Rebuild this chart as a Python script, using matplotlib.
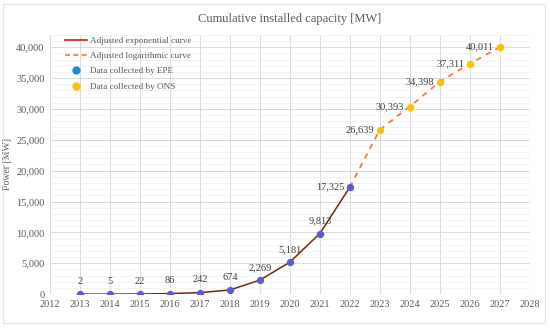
import matplotlib
matplotlib.use("Agg")
import matplotlib.pyplot as plt
from matplotlib.lines import Line2D
from matplotlib.patches import Rectangle

# data
epe_years = [2013, 2014, 2015, 2016, 2017, 2018, 2019, 2020, 2021, 2022]
epe_power = [2, 5, 22, 86, 242, 674, 2269, 5181, 9813, 17325]
ons_years = [2023, 2024, 2025, 2026, 2027]
ons_power = [26639, 30393, 34398, 37311, 40011]
x_ticks = list(range(2012, 2029))
y_ticks = list(range(0, 40001, 5000))

plt.rcParams["font.family"] = ["Liberation Serif", "DejaVu Serif"]
gray = "#595959"

fig = plt.figure(figsize=(5.5, 3.29), dpi=100)
fig.patches.append(Rectangle((0.006, 0.018), 0.985, 0.97, transform=fig.transFigure,
                             fill=False, edgecolor="#e3e3e3", linewidth=0.8))
ax = fig.add_axes([0.091, 0.106, 0.872, 0.788])

# grid
ax.set_xlim(2012, 2028)
ax.set_ylim(0, 42000)
ax.set_xticks(x_ticks)
ax.set_yticks(y_ticks)
ax.set_yticks(range(0, 42001, 1000), minor=True)
ax.grid(which="major", color="#d9d9d9", linewidth=0.7)
ax.grid(which="minor", axis="y", color="#efefef", linewidth=0.5)
ax.set_axisbelow(True)
for s in ax.spines.values():
    s.set_visible(False)
ax.axhline(0, color="#bfbfbf", linewidth=0.8, zorder=1)
ax.tick_params(which="both", length=0, labelsize=7.5, labelcolor=gray, pad=4)
ax.yaxis.set_major_formatter(matplotlib.ticker.FuncFormatter(lambda v, p: f"{int(v):,}"))

# curves
ax.plot(epe_years, epe_power, color="#6e2a0c", linewidth=1.1, zorder=2)
ax.plot([epe_years[-1]] + ons_years, [epe_power[-1]] + ons_power, color="#f07a3c",
        linewidth=1.3, linestyle=(0, (3, 3)), zorder=2)

# points
ax.scatter(epe_years, epe_power, s=28, color="#5b5bd6", zorder=3, linewidths=0)
ax.scatter(ons_years, ons_power, s=28, color="#ffc000", zorder=3, linewidths=0)

# data labels
for x, y in zip(epe_years[:-1], epe_power[:-1]):
    ax.annotate(f"{y:,}", (x, y), xytext=(0, 6), textcoords="offset points",
                ha="center", va="bottom", fontsize=7.5, color="#404040")
for x, y in zip(epe_years[-1:] + ons_years, epe_power[-1:] + ons_power):
    ax.annotate(f"{y:,}", (x, y), xytext=(-4, 0), textcoords="offset points",
                ha="right", va="center", fontsize=7.5, color="#404040")

ax.set_title("Cumulative installed capacity [MW]", fontsize=9, color=gray, pad=9)
ax.set_ylabel("Power [MW]", fontsize=7, color=gray, labelpad=3)

handles = [
    Line2D([], [], color="#e01010", linewidth=1.2),
    Line2D([], [], color="#f07a3c", linewidth=1.2, linestyle=(0, (3, 2))),
    Line2D([], [], color="#1a8ad4", marker="o", linestyle="none", markersize=5),
    Line2D([], [], color="#ffc000", marker="o", linestyle="none", markersize=5),
]
labels = ["Adjusted exponential curve", "Adjusted logarithmic curve",
          "Data collected by EPE", "Data collected by ONS"]
leg = ax.legend(handles, labels, loc="upper left", bbox_to_anchor=(0.02, 1.015), frameon=False,
                fontsize=6.6, handlelength=2.4, handletextpad=0.3, labelspacing=0.75,
                borderaxespad=0.2)
for t in leg.get_texts():
    t.set_color(gray)

fig.savefig("out.png", dpi=100)
